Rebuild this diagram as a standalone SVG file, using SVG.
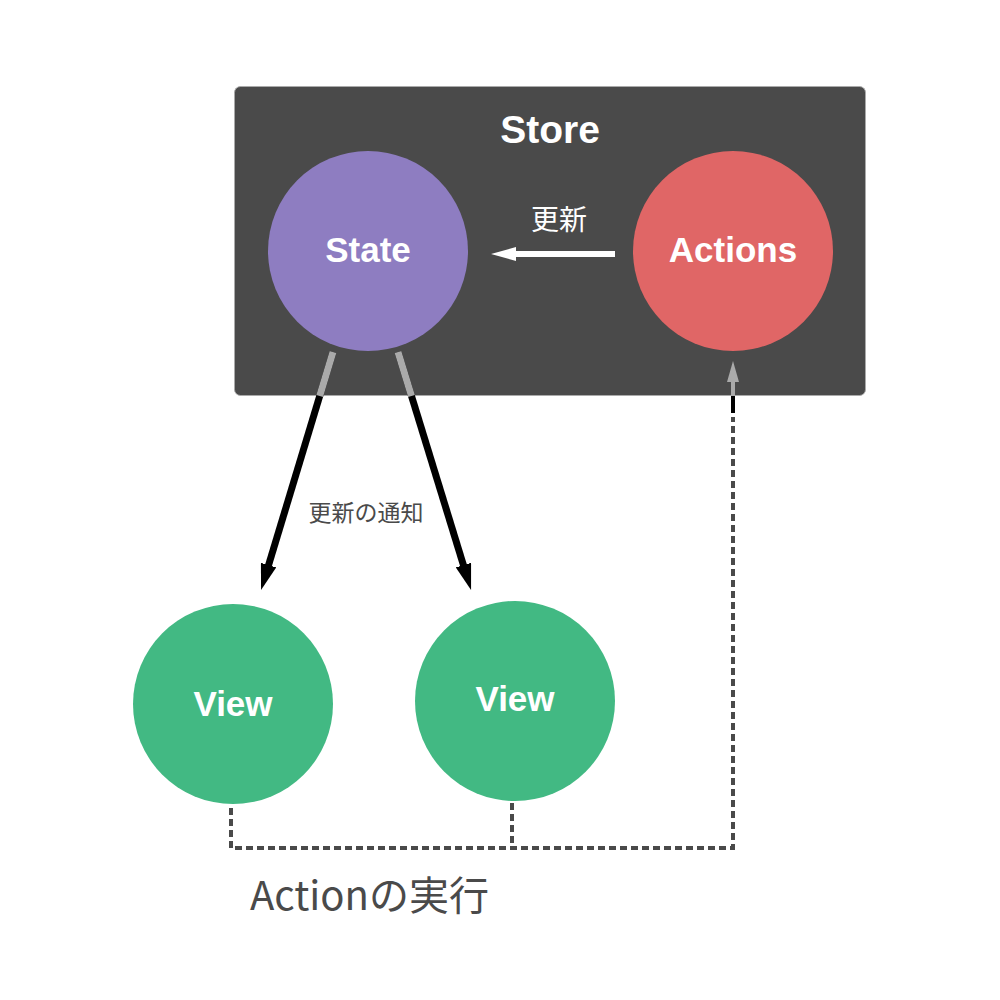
<svg xmlns="http://www.w3.org/2000/svg" width="1000" height="1000" viewBox="0 0 1000 1000">
<defs>
<style>
.lbl{font-family:"Liberation Sans",Arial,sans-serif;font-weight:bold;fill:#fff;text-anchor:middle}
.jp{font-family:"Noto Sans CJK JP","Noto Sans",sans-serif}
.dash{fill:none;stroke:#4a4a4a;stroke-width:4;stroke-dasharray:7 4}
</style>
<marker id="blk" markerUnits="userSpaceOnUse" viewBox="0 0 26 16" markerWidth="26" markerHeight="16" refX="2" refY="8" orient="auto">
<path d="M0,0 L26,8 L0,16 z" fill="#000"/>
</marker>
</defs>
<rect width="1000" height="1000" fill="#fff"/>
<g id="store">
<rect x="234.5" y="86.5" width="631" height="309" rx="6" fill="#4a4a4a" stroke="#aaa" stroke-width="1"/>
<text class="lbl" x="550" y="143" font-size="39">Store</text>
</g>
<g id="state">
<circle cx="368" cy="251" r="100" fill="#8e7dc1"/>
<text class="lbl" x="368" y="262" font-size="35">State</text>
</g>
<g id="actions">
<circle cx="733" cy="251" r="100" fill="#e06666"/>
<text class="lbl" x="733" y="262" font-size="35">Actions</text>
</g>
<g id="view1">
<circle cx="233" cy="704" r="100" fill="#42b983"/>
<text class="lbl" x="233" y="716" font-size="35">View</text>
</g>
<g id="view2">
<circle cx="515" cy="701" r="100" fill="#42b983"/>
<text class="lbl" x="515" y="711" font-size="35">View</text>
</g>
<g id="connectors">
<line x1="333" y1="352" x2="268" y2="567" stroke="#000" stroke-width="7" marker-end="url(#blk)"/>
<line x1="333" y1="352" x2="319.7" y2="396" stroke="#aaa" stroke-width="7"/>
<line x1="398" y1="352" x2="464" y2="567" stroke="#000" stroke-width="7" marker-end="url(#blk)"/>
<line x1="398" y1="352" x2="411.5" y2="396" stroke="#aaa" stroke-width="7"/>
<text class="jp" x="366" y="521" font-size="23" fill="#4a4a4a" text-anchor="middle">更新の通知</text>
<line x1="615" y1="254" x2="512" y2="254" stroke="#fff" stroke-width="6"/>
<polygon points="491,254 516,247 516,261" fill="#fff"/>
<text class="jp" x="559" y="230" font-size="28" fill="#fff" text-anchor="middle">更新</text>
<path class="dash" d="M231,808 V848 H733 V417"/>
<path class="dash" d="M512,803 V848"/>
<line x1="733" y1="396" x2="733" y2="413" stroke="#000" stroke-width="4"/>
<line x1="733" y1="380" x2="733" y2="396" stroke="#aaa" stroke-width="4"/>
<polygon points="733,361 727,382 739,382" fill="#aaa"/>
<text class="jp" x="250" y="910" font-size="40" fill="#4a4a4a">Actionの実行</text>
</g>
</svg>
